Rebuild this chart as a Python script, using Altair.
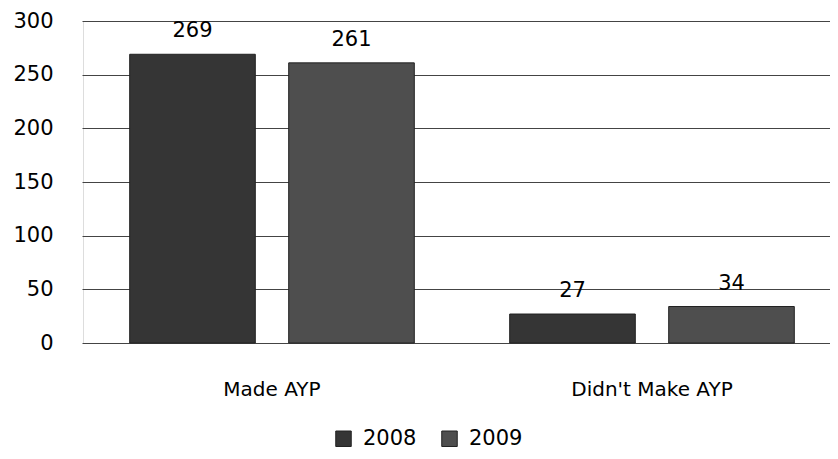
import altair as alt
import pandas as pd

categories = ["Made AYP", "Made AYP", "Didn't Make AYP", "Didn't Make AYP"]
years = ["2008", "2009", "2008", "2009"]
values = [269, 261, 27, 34]

df = pd.DataFrame({"category": categories, "year": years, "value": values})

FONT = "DejaVu Sans"
ORDER = ["Made AYP", "Didn't Make AYP"]

x = alt.X("category:N", sort=ORDER,
          scale=alt.Scale(paddingInner=0, paddingOuter=0, range=[-1, 759]),
          axis=alt.Axis(title=None, labelAngle=0, ticks=False, domain=False,
                        labelFontSize=20, labelFont=FONT, labelColor="#000",
                        labelPadding=36))
xo = alt.XOffset("year:N", scale=alt.Scale(paddingInner=0.21, paddingOuter=0.3))
y = alt.Y("value:Q", scale=alt.Scale(domain=[0, 300], nice=False),
          axis=alt.Axis(title=None, values=[0, 50, 100, 150, 200, 250, 300],
                        ticks=False, domain=False, labelFontSize=21, labelFont=FONT,
                        labelColor="#000", labelPadding=30,
                        gridColor="#444", gridWidth=1, gridOpacity=1))

bars = alt.Chart(df).mark_bar(stroke="#222", strokeWidth=1).encode(
    x=x, xOffset=xo, y=y,
    color=alt.Color("year:N",
                    scale=alt.Scale(domain=["2008", "2009"], range=["#353535", "#4e4e4e"]),
                    legend=alt.Legend(title=None, orient="none", direction="horizontal",
                                      legendX=250, legendY=407,
                                      symbolType="square", symbolSize=240,
                                      symbolStrokeColor="#222", symbolStrokeWidth=1,
                                      labelFontSize=21, labelFont=FONT, labelColor="#000",
                                      labelLimit=200, columnPadding=22, labelOffset=9))
)

labels = alt.Chart(df).mark_text(baseline="bottom", dy=-13, fontSize=21, font=FONT,
                                 color="#000").encode(
    x=alt.X("category:N", sort=ORDER),
    xOffset=xo, y=alt.Y("value:Q"), text="value:Q")

chart = alt.layer(bars, labels).properties(
    width=747, height=322,
    autosize=alt.AutoSizeParams(type="none"),
    padding={"left": 75, "top": 13, "right": 0, "bottom": 108},
).configure_view(stroke=None).configure(background="white")

chart.save("out.html", embed_options={"renderer": "svg", "actions": False})
